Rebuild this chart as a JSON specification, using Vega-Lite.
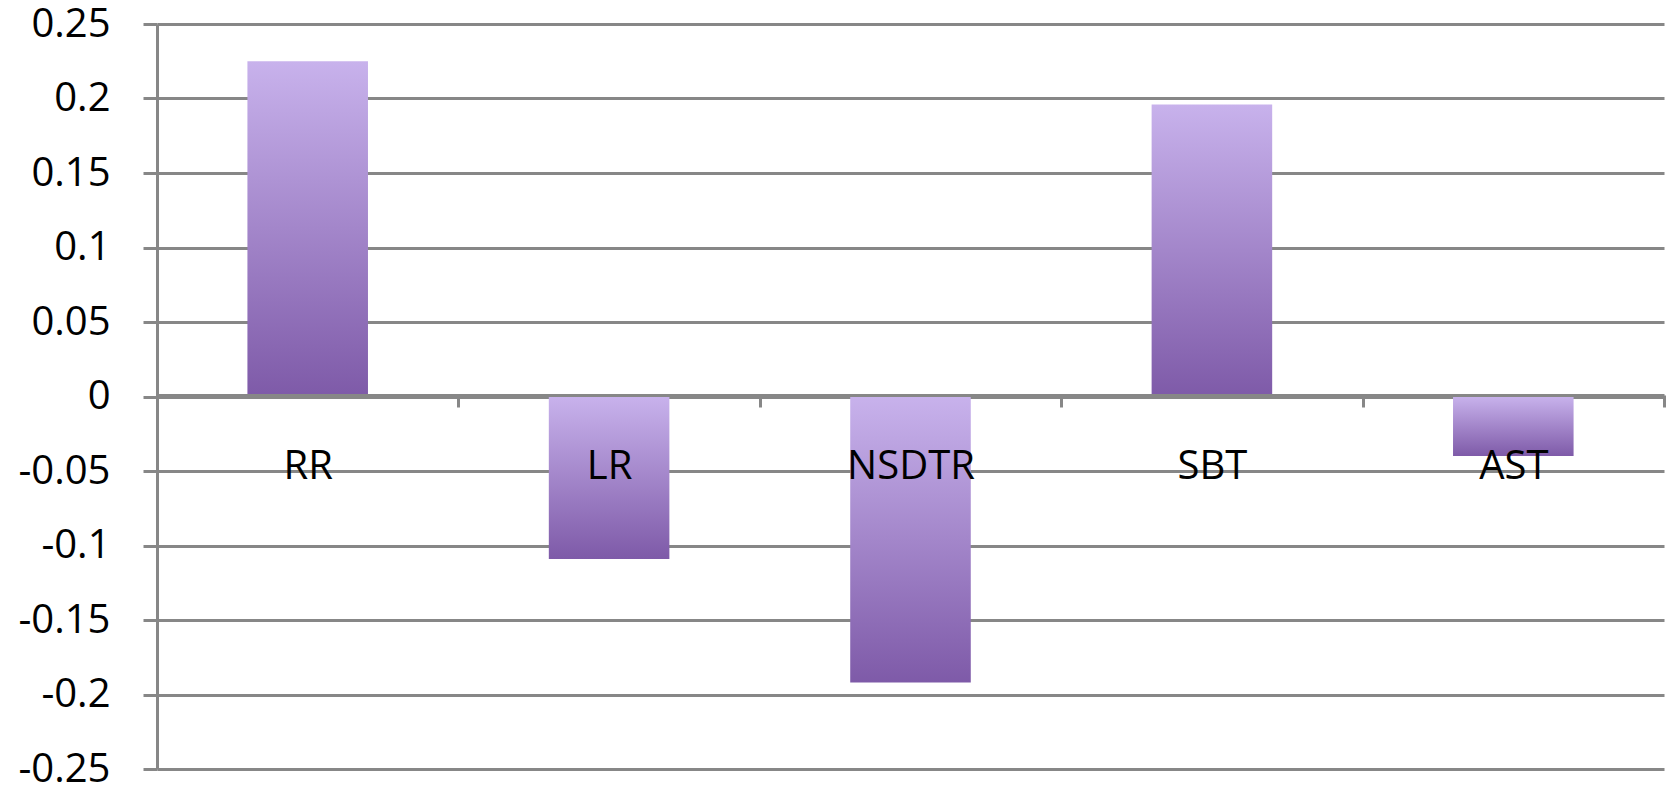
{
  "$schema": "https://vega.github.io/schema/vega-lite/v6.json",
  "autosize": "none",
  "width": 1507,
  "height": 745,
  "padding": {"left": 157, "top": 24, "right": 8, "bottom": 22},
  "background": "white",
  "config": {
    "view": {"stroke": null},
    "locale": {"number": {"decimal": ".", "thousands": ",", "grouping": [3], "currency": ["$", ""], "minus": "-"}},
    "font": "Open Sans"
  },
  "data": {
    "values": [
      {"cat": "RR", "value": 0.225},
      {"cat": "LR", "value": -0.109},
      {"cat": "NSDTR", "value": -0.192},
      {"cat": "SBT", "value": 0.196},
      {"cat": "AST", "value": -0.04}
    ]
  },
  "mark": {
    "type": "bar",
    "width": {"band": 0.4},
    "fill": {
      "gradient": "linear",
      "x1": 0, "y1": 0, "x2": 0, "y2": 1,
      "stops": [
        {"offset": 0, "color": "#c8b2ec"},
        {"offset": 1, "color": "#7e5aa8"}
      ]
    }
  },
  "encoding": {
    "x": {
      "field": "cat",
      "type": "nominal",
      "sort": null,
      "scale": {"paddingInner": 0, "paddingOuter": 0},
      "axis": {
        "title": null,
        "offset": -374,
        "labelAngle": 0,
        "labelFontSize": 40,
        "labelFont": "Open Sans",
        "labelColor": "#000000",
        "labelPadding": 39,
        "tickBand": "extent",
        "tickSize": 12,
        "tickWidth": 3,
        "tickColor": "#878787",
        "domainColor": "#878787",
        "domainWidth": 3,
        "grid": false,
        "zindex": 1
      }
    },
    "y": {
      "field": "value",
      "type": "quantitative",
      "scale": {"domain": [-0.25, 0.25], "nice": false, "zero": false},
      "axis": {
        "title": null,
        "values": [-0.25, -0.2, -0.15, -0.1, -0.05, 0, 0.05, 0.1, 0.15, 0.2, 0.25],
        "format": ".2~f",
        "labelFontSize": 40,
        "labelFont": "Open Sans",
        "labelColor": "#000000",
        "labelPadding": 33,
        "tickSize": 14,
        "tickWidth": 3,
        "tickColor": "#878787",
        "domainColor": "#878787",
        "domainWidth": 3,
        "grid": true,
        "gridColor": "#878787",
        "gridWidth": 3,
        "gridOpacity": 1
      }
    }
  }
}
